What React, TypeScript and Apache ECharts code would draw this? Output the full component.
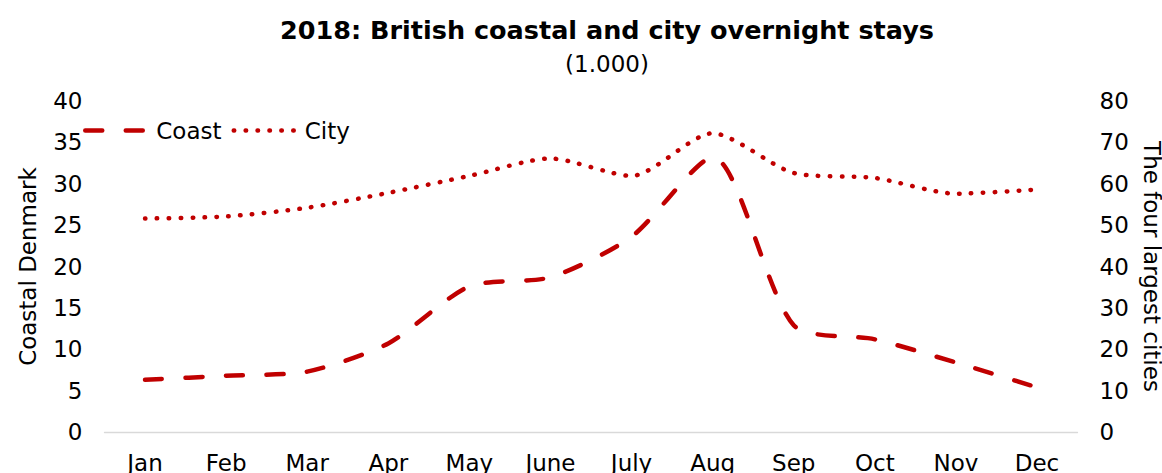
import React, { useEffect, useRef } from "react";
import * as echarts from "echarts";

const months = ["Jan", "Feb", "Mar", "Apr", "May", "June", "July", "Aug", "Sep", "Oct", "Nov", "Dec"];
const coast = [6.3, 6.8, 7.3, 10.7, 17.6, 18.7, 23.6, 33.2, 12.9, 11.2, 8.4, 5.4];
const city = [51.6, 52.1, 54.2, 57.8, 61.9, 66.1, 61.9, 72.2, 62.6, 61.4, 57.6, 58.6];
const leftTicks = { min: 0, max: 40, interval: 5 };
const rightTicks = { min: 0, max: 80, interval: 10 };

const FONT = "DejaVu Sans";
const RED = "#C00000";
const FS = 23;

const coastLine = { color: RED, width: 4.5, type: [17, 23.5], cap: "round" };
const cityLine = { color: RED, width: 4.5, type: [0.5, 11.4], cap: "round" };

export default function App() {
  const ref = useRef<HTMLDivElement>(null);
  useEffect(() => {
    if (!ref.current) return;
    const chart = echarts.init(ref.current, null, { renderer: "svg" });
    chart.setOption({
      animation: false,
      textStyle: { fontFamily: FONT, color: "#000" },
      title: [
        {
          text: "2018: British coastal and city overnight stays",
          left: 602,
          top: 12,
          textAlign: "center",
          textStyle: { fontFamily: FONT, fontWeight: "bold", fontSize: 25.5, color: "#000" },
        },
        {
          text: "(1.000)",
          left: 602,
          top: 47,
          textAlign: "center",
          textStyle: { fontFamily: FONT, fontWeight: "normal", fontSize: 23, color: "#000" },
        },
      ],
      legend: {
        left: 78,
        top: 114,
        itemWidth: 62,
        itemHeight: 20,
        itemGap: 10,
        itemStyle: { opacity: 0 },
        textStyle: { fontFamily: FONT, fontSize: FS, color: "#000", padding: [0, 0, 0, 4] },
        data: [
          { name: "Coast", lineStyle: coastLine },
          { name: "City", lineStyle: cityLine },
        ],
      },
      grid: { left: 104.5, right: 84.5, top: 101, bottom: 41, containLabel: false, outerBoundsMode: "none" },
      xAxis: {
        type: "category",
        data: months,
        boundaryGap: true,
        axisLine: { lineStyle: { color: "#D9D9D9", width: 1.3 } },
        axisTick: { show: false },
        axisLabel: { color: "#000", fontSize: FS, fontFamily: FONT, margin: 19 },
      },
      yAxis: [
        {
          type: "value",
          ...leftTicks,
          name: "Coastal Denmark",
          nameLocation: "middle",
          nameRotate: 90,
          nameGap: 65,
          nameTextStyle: { fontSize: FS, fontFamily: FONT, color: "#000" },
          splitLine: { show: false },
          axisLine: { show: false },
          axisTick: { show: false },
          axisLabel: { color: "#000", fontSize: FS, fontFamily: FONT, margin: 22 },
        },
        {
          type: "value",
          ...rightTicks,
          position: "right",
          name: "The four largest cities",
          nameLocation: "middle",
          nameRotate: -90,
          nameGap: 63,
          nameTextStyle: { fontSize: FS, fontFamily: FONT, color: "#000" },
          splitLine: { show: false },
          axisLine: { show: false },
          axisTick: { show: false },
          axisLabel: { color: "#000", fontSize: FS, fontFamily: FONT, margin: 22 },
        },
      ],
      series: [
        {
          name: "Coast",
          type: "line",
          yAxisIndex: 0,
          data: coast,
          symbol: "none",
          smooth: 0.25,
          itemStyle: { color: RED },
          lineStyle: coastLine,
        },
        {
          name: "City",
          type: "line",
          yAxisIndex: 1,
          data: city,
          symbol: "none",
          smooth: 0.25,
          itemStyle: { color: RED },
          lineStyle: cityLine,
        },
      ],
    });
    return () => chart.dispose();
  }, []);
  return <div ref={ref} style={{ width: 1162, height: 473, position: "absolute", left: 0, top: 0 }} />;
}
